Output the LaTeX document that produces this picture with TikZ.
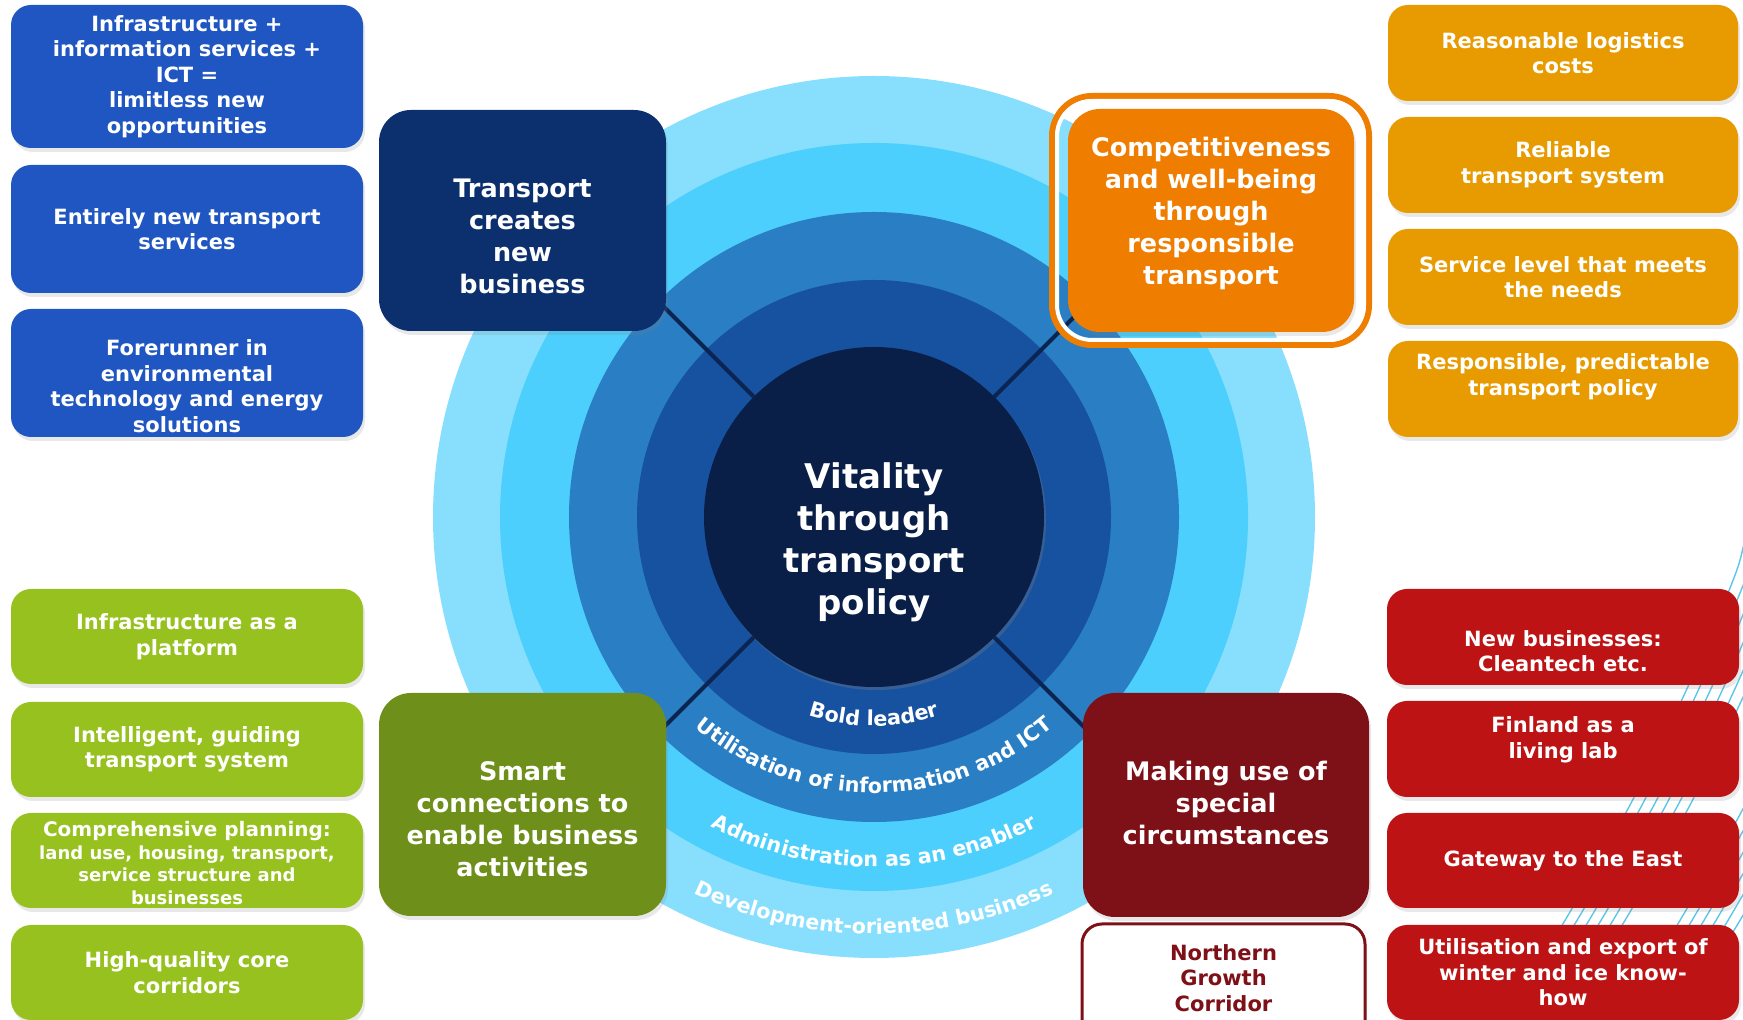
\documentclass[tikz,border=0pt]{standalone}
\usepackage{fontspec}
\setmainfont{DejaVu Sans}
\usetikzlibrary{shadows,decorations.text}
\definecolor{ringA}{HTML}{88DFFD}
\definecolor{ringB}{HTML}{4CCFFC}
\definecolor{ringC}{HTML}{2A7EC3}
\definecolor{ringD}{HTML}{1752A0}
\definecolor{corec}{HTML}{0A1F48}
\definecolor{connc}{HTML}{0B2550}
\definecolor{bluebox}{HTML}{1F56C2}
\definecolor{navybox}{HTML}{0C306E}
\definecolor{orangemain}{HTML}{EF7D00}
\definecolor{orangebox}{HTML}{E89B00}
\definecolor{greenbox}{HTML}{97C11E}
\definecolor{greenbig}{HTML}{6E8F19}
\definecolor{redbox}{HTML}{BE1314}
\definecolor{redbig}{HTML}{7E1117}
\definecolor{hatchc}{HTML}{5CC6EA}
\tikzset{
  shad/.style={drop shadow={opacity=0.18, shadow xshift=2pt, shadow yshift=-4pt}},
  sbox/.style={rectangle, rounded corners=20pt, inner sep=0pt, minimum width=352pt, minimum height=95pt, shad},
  bbox/.style={rectangle, rounded corners=32pt, inner sep=0pt, minimum width=287pt, minimum height=223pt, shad},
  stxt/.style={text=white, align=center, inner sep=0pt, font=\bfseries\fontsize{21}{25.5}\selectfont},
  btxt/.style={text=white, align=center, inner sep=0pt, font=\bfseries\fontsize{25.5}{32}\selectfont},
  ctxt/.style={text=white, align=center, inner sep=0pt, font=\bfseries\fontsize{34}{42}\selectfont},
  conn/.style={draw=connc, line width=4pt},
  hatchline/.style={draw=hatchc, line width=1.4pt},
  arctext/.style={decorate, decoration={text along path, text align=center,
      text={|\color{white}\bfseries\fontsize{20.7}{24}\selectfont|#1}}},
}
\begin{document}
\begin{tikzpicture}[x=1pt,y=1pt]
\useasboundingbox (0,0) rectangle (1743,1020);
\begin{scope}
\clip (0,0) rectangle (1743,1020);
% hatching on the right
\foreach \dx in {0,12,24,36,48,60,115,127,139,151,163,175}{
  \draw[hatchline, xshift=\dx pt] plot[smooth] coordinates {(1497,-10) (1567,103) (1630,215) (1685,327) (1730,432) (1743,472) (1752,530)};
}
% rings
\fill[ringA] (874,503) circle[radius=441pt];
\fill[ringB] (874,503) circle[radius=374pt];
\fill[ringC] (874,503) circle[radius=305pt];
\fill[ringD] (874,503) circle[radius=237pt];
% core
\node[circle, fill=corec, minimum size=340pt, inner sep=0pt, drop shadow={opacity=0.3, shadow xshift=2pt, shadow yshift=-3pt}] (core) at (874,503) {};
\draw[conn] (core.135) -- ++(135:165pt);
\draw[conn] (core.45) -- ++(45:165pt);
\draw[conn] (core.225) -- ++(225:165pt);
\draw[conn] (core.315) -- ++(315:165pt);
\node[ctxt] (coretxt) at (874,478) {Vitality\\through\\transport\\policy};
% arc texts
\path[arctext={Bold leader}] (874,503) ++(180:209pt) arc[start angle=180, end angle=360, radius=209pt];
\path[arctext={Utilisation of information and ICT}] (874,503) ++(180:276pt) arc[start angle=180, end angle=360, radius=276pt];
\path[arctext={Administration as an enabler}] (874,503) ++(180:350pt) arc[start angle=180, end angle=360, radius=350pt];
\path[arctext={Development-oriented business}] (874,503) ++(180:417pt) arc[start angle=180, end angle=360, radius=417pt];
% left blue boxes
\node[sbox, fill=bluebox, minimum height=143pt] (b1) at (187,943.5) {};
\node[stxt] (b1t) at (b1.center) {Infrastructure +\\information services +\\ICT =\\limitless new\\opportunities};
\node[sbox, fill=bluebox, minimum height=128pt] (b2) at (187,791) {};
\node[stxt] (b2t) at (b2.center) {Entirely new transport\\services};
\node[sbox, fill=bluebox, minimum height=128pt] (b3) at (187,647) {};
\node[stxt] (b3t) at (187,634) {Forerunner in\\environmental\\technology and energy\\solutions};
% navy box
\node[bbox, fill=navybox, minimum height=221pt] (navy) at (522.5,799.5) {};
\node[btxt] (navyt) at (522.5,784) {Transport\\creates\\new\\business};
% orange main with frame
\node[bbox, fill=orangemain, minimum width=286pt] (orng) at (1211,799.5) {};
\draw[orangemain, line width=6pt, rounded corners=40pt] (1052,675) rectangle (1369,924);
\draw[white, line width=4pt, rounded corners=35pt] (1057,680) rectangle (1364,919);
\node[btxt] (orngt) at (1211,807) {Competitiveness\\and well-being\\through\\responsible\\transport};
% orange small boxes
\node[sbox, fill=orangebox, minimum width=350pt, minimum height=96pt] (o1) at (1563,967) {};
\node[stxt] (o1t) at (o1.center) {Reasonable logistics\\costs};
\node[sbox, fill=orangebox, minimum width=350pt, minimum height=96pt] (o2) at (1563,855) {};
\node[stxt] (o2t) at (o2.center) {Reliable\\transport system};
\node[sbox, fill=orangebox, minimum width=350pt, minimum height=96pt] (o3) at (1563,743) {};
\node[stxt] (o3t) at (o3.center) {Service level that meets\\the needs};
\node[sbox, fill=orangebox, minimum width=350pt, minimum height=96pt] (o4) at (1563,631) {};
\node[stxt] (o4t) at (1563,643) {Responsible, predictable\\transport policy};
% green small boxes
\node[sbox, fill=greenbox] (g1) at (187,383.5) {};
\node[stxt] (g1t) at (g1.center) {Infrastructure as a\\platform};
\node[sbox, fill=greenbox] (g2) at (187,270.5) {};
\node[stxt] (g2t) at (g2.center) {Intelligent, guiding\\transport system};
\node[sbox, fill=greenbox] (g3) at (187,159.5) {};
\node[stxt, font=\bfseries\fontsize{18}{22.5}\selectfont] (g3t) at (187,157) {{\fontsize{20}{22.5}\selectfont Comprehensive planning:}\\land use, housing, transport,\\service structure and\\businesses};
\node[sbox, fill=greenbox] (g4) at (187,47.5) {};
\node[stxt] (g4t) at (g4.center) {High-quality core\\corridors};
% green big
\node[bbox, fill=greenbig] (smart) at (522.5,215.5) {};
\node[btxt] (smartt) at (522.5,201) {Smart\\connections to\\enable business\\activities};
% red big
\node[bbox, fill=redbig, minimum width=286pt, minimum height=224pt] (making) at (1226,215) {};
\node[btxt] (makingt) at (1226,217) {Making use of\\special\\circumstances};
% northern
\node[rectangle, rounded corners=20pt, draw=redbig, line width=3pt, fill=white, minimum width=283pt, minimum height=121pt, inner sep=0pt, shad] (north) at (1223.5,35.5) {};
\node[stxt, text=redbig] (northt) at (1223.5,42) {Northern\\Growth\\Corridor};
% red small boxes
\node[sbox, fill=redbox, minimum height=96pt] (r1) at (1563,383) {};
\node[stxt] (r1t) at (1563,369) {New businesses:\\Cleantech etc.};
\node[sbox, fill=redbox, minimum height=96pt] (r2) at (1563,271) {};
\node[stxt] (r2t) at (1563,280) {Finland as a\\living lab};
\node[sbox, fill=redbox] (r3) at (1563,159.5) {};
\node[stxt] (r3t) at (r3.center) {Gateway to the East};
\node[sbox, fill=redbox] (r4) at (1563,47.5) {};
\node[stxt] (r4t) at (r4.center) {Utilisation and export of\\winter and ice know-\\how};
\end{scope}
\end{tikzpicture}
\end{document}
